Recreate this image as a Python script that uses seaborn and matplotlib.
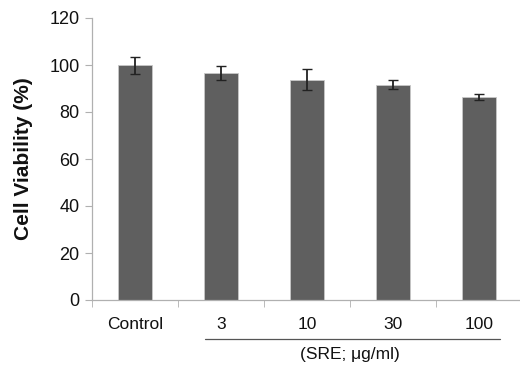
import numpy as np
import pandas as pd
import matplotlib
matplotlib.use("Agg")
import matplotlib.pyplot as plt
import matplotlib.transforms as mtransforms
import seaborn as sns

# 数据
groups = ["Control", "3", "10", "30", "100"]
viability = [99.8, 96.6, 93.8, 91.6, 86.5]
sd = [3.8, 2.8, 4.4, 2.0, 1.3]

sns.set_style("white")
plt.rcParams['font.family'] = ['Liberation Sans', 'DejaVu Sans']
plt.rcParams['text.color'] = '#111111'
plt.rcParams['axes.labelcolor'] = '#111111'
plt.rcParams['xtick.labelcolor'] = '#111111'
plt.rcParams['ytick.labelcolor'] = '#111111'

df = pd.DataFrame({"group": groups, "viability": viability})

fig = plt.figure(figsize=(5.2, 3.65), dpi=100)
ax = fig.add_axes([92 / 520, 65 / 365, 430 / 520, 282 / 365])

sns.barplot(data=df, x="group", y="viability", color="#5f5f5f", saturation=1,
            width=0.4, edgecolor="#c8c8c8", linewidth=0.6, errorbar=None, ax=ax)
ax.errorbar(np.arange(len(groups)), viability, yerr=sd, fmt="none",
            ecolor="#222222", elinewidth=1.3, capsize=3.5, capthick=1.0)

ax.set_ylim(0, 120)
ax.set_xlim(-0.5, 4.5)
ax.set_yticks(range(0, 121, 20))
ax.set_ylabel("Cell Viability (%)", fontsize=15, fontweight="bold", labelpad=12)
ax.set_xlabel("")

for s in ["top", "right"]:
    ax.spines[s].set_visible(False)
for s in ["left", "bottom"]:
    ax.spines[s].set_color("#b0b0b0")
    ax.spines[s].set_linewidth(0.9)

ax.tick_params(axis="y", left=True, length=5, color="#b0b0b0", labelsize=13, pad=4)
ax.tick_params(axis="x", which="major", bottom=False, labelsize=12.5, pad=9)
ax.set_xticks(np.arange(-0.5, 4.5, 1.0), minor=True)
ax.tick_params(axis="x", which="minor", bottom=True, length=5, color="#b0b0b0")

# 下方横线和单位
trans = mtransforms.blended_transform_factory(ax.transData, fig.transFigure)
ax.plot([0.81, 4.24], [26 / 365, 26 / 365], color="#555555", lw=0.9,
        transform=trans, clip_on=False)
ax.text(2.5, 10 / 365, "(SRE; μg/ml)", transform=trans, ha="center",
        va="center", fontsize=12.5)

plt.savefig("out.png", dpi=100)
